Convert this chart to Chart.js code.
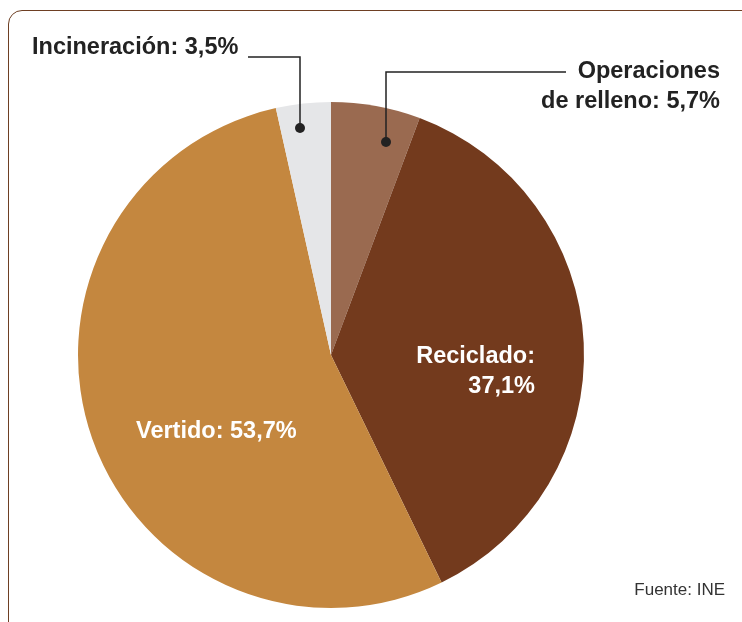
<!DOCTYPE html>
<html>
<head>
<meta charset="utf-8">
<script src="https://cdn.jsdelivr.net/npm/chart.js@4"></script>
<style>
  html, body { margin: 0; padding: 0; background: #fff; }
  #wrap { position: relative; width: 742px; height: 622px; overflow: hidden; }
  #frame {
    position: absolute; left: 8px; top: 10px; width: 800px; height: 640px;
    border: 1.5px solid #6e3f23; border-radius: 14px; box-sizing: border-box;
  }
  canvas { position: absolute; left: 0; top: 0; }
</style>
</head>
<body>
<div id="wrap">
  <div id="frame"></div>
  <canvas id="chart" width="742" height="622"></canvas>
</div>
<script>
const categories = ["Operaciones de relleno", "Reciclado", "Vertido", "Incineración"];
const shares = [5.7, 37.1, 53.7, 3.5];
const sliceColors = ["#9a6a50", "#733a1d", "#c4873f", "#e5e6e8"];

const fmt = (v) => v.toFixed(1).replace(".", ",") + "%";

// labels and leader lines drawn after the pie
const labelPlugin = {
  id: "labels",
  afterDraw(chart) {
    const ctx = chart.ctx;
    const font = "bold 23.5px 'Liberation Sans', Arial, sans-serif";
    ctx.save();
    ctx.font = font;
    ctx.textBaseline = "middle";

    // Reciclado (inside, white)
    ctx.fillStyle = "#ffffff";
    ctx.textAlign = "right";
    ctx.fillText(categories[1] + ":", 535, 357);
    ctx.fillText(fmt(shares[1]), 535, 387);

    // Vertido (inside, white)
    ctx.textAlign = "left";
    ctx.fillText(categories[2] + ": " + fmt(shares[2]), 136, 432);

    // outside labels
    ctx.fillStyle = "#222222";
    ctx.textAlign = "left";
    ctx.fillText(categories[3] + ": " + fmt(shares[3]), 32, 48);
    ctx.textAlign = "right";
    ctx.fillText("Operaciones", 720, 72);
    ctx.fillText("de relleno: " + fmt(shares[0]), 720, 102);

    // leader lines
    ctx.strokeStyle = "#222222";
    ctx.lineWidth = 1.5;
    ctx.beginPath();
    ctx.moveTo(248, 57); ctx.lineTo(300, 57); ctx.lineTo(300, 128);
    ctx.moveTo(566, 72); ctx.lineTo(386, 72); ctx.lineTo(386, 142);
    ctx.stroke();
    ctx.fillStyle = "#222222";
    [[300, 128], [386, 142]].forEach(([x, y]) => {
      ctx.beginPath(); ctx.arc(x, y, 5, 0, Math.PI * 2); ctx.fill();
    });

    // source
    ctx.font = "17px 'Liberation Sans', Arial, sans-serif";
    ctx.fillStyle = "#333333";
    ctx.textAlign = "right";
    ctx.fillText("Fuente: INE", 725, 590);
    ctx.restore();
  }
};

new Chart(document.getElementById("chart"), {
  type: "pie",
  data: {
    labels: categories,
    datasets: [{
      data: shares,
      backgroundColor: sliceColors,
      borderWidth: 0
    }]
  },
  options: {
    responsive: false,
    animation: false,
    layout: { padding: { left: 78, right: 158, top: 102, bottom: 14 } },
    plugins: {
      legend: { display: false },
      tooltip: { enabled: false }
    }
  },
  plugins: [labelPlugin]
});
</script>
</body>
</html>
